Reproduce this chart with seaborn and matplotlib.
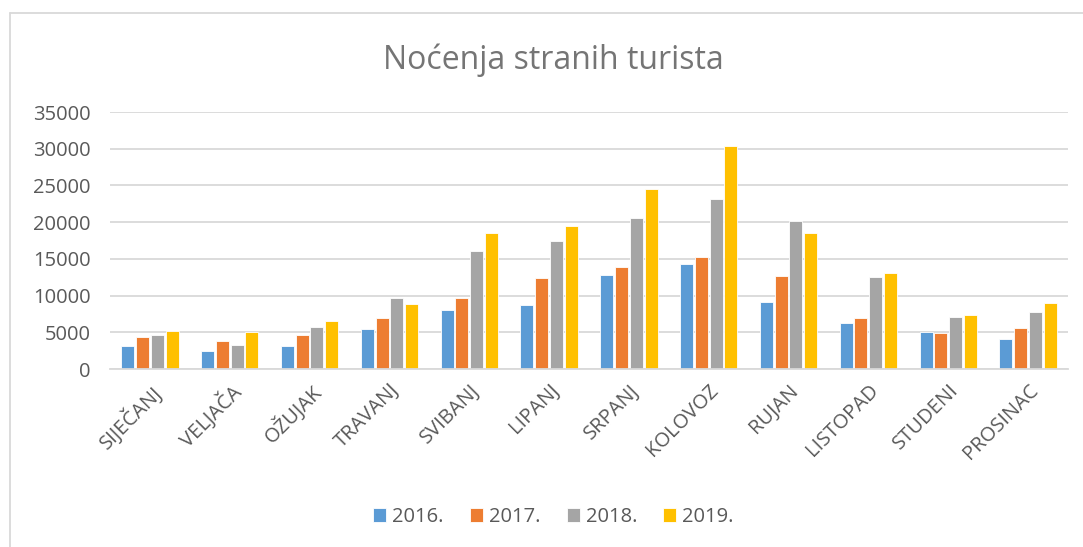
import matplotlib
matplotlib.use("Agg")
import matplotlib.pyplot as plt
import pandas as pd
import seaborn as sns
from matplotlib.lines import Line2D

months = ["SIJEČANJ", "VELJAČA", "OŽUJAK", "TRAVANJ", "SVIBANJ", "LIPANJ",
          "SRPANJ", "KOLOVOZ", "RUJAN", "LISTOPAD", "STUDENI", "PROSINAC"]
years = ["2016.", "2017.", "2018.", "2019."]
v2016 = [3100, 2500, 3150, 5500, 8000, 8750, 12850, 14300, 9130, 6270, 5000, 4140]
v2017 = [4320, 3770, 4590, 7000, 9630, 12450, 13850, 15220, 12630, 6910, 4860, 5640]
v2018 = [4680, 3270, 5680, 9720, 16080, 17400, 20580, 23120, 20210, 12490, 7090, 7770]
v2019 = [5180, 5050, 6540, 8910, 18530, 19490, 24480, 30390, 18530, 13080, 7320, 8950]
colors = ["#5B9BD5", "#ED7D31", "#A5A5A5", "#FFC000"]

rows = []
for year, vals in zip(years, [v2016, v2017, v2018, v2019]):
    for m, v in zip(months, vals):
        rows.append({"month": m, "year": year, "value": v})
df = pd.DataFrame(rows)

sns.set_style("white")
plt.rcParams["font.family"] = ["Open Sans", "DejaVu Sans"]
text_color = "#595959"

fig = plt.figure(figsize=(10.83, 5.47), dpi=100)
ax = fig.add_axes([0.1016, 0.3254, 0.8845, 0.4698])

sns.barplot(data=df, x="month", y="value", hue="year", order=months,
            hue_order=years, palette=colors, saturation=1, width=0.74, gap=0.12,
            edgecolor="white", linewidth=0.6, ax=ax, legend=True)

ax.set_ylim(0, 35000)
ax.set_yticks(range(0, 35001, 5000))
ax.set_xlim(-0.5, 11.5)
ax.yaxis.grid(True, color="#D9D9D9", linewidth=1.3)
ax.set_axisbelow(True)
for s in ["top", "right", "left"]:
    ax.spines[s].set_visible(False)
ax.spines["bottom"].set_color("#D9D9D9")
ax.spines["bottom"].set_linewidth(1.3)
ax.set_xlabel("")
ax.set_ylabel("")
ax.tick_params(axis="both", length=0, labelsize=14.5, colors=text_color)
ax.tick_params(axis="y", pad=14)
plt.setp(ax.get_xticklabels(), rotation=45, ha="right", rotation_mode="anchor")
ax.tick_params(axis="x", pad=8)

fig.text(0.511, 0.89, "Noćenja stranih turista", ha="center", va="center",
         fontsize=23, color="#757575")

leg = ax.legend(loc="center", bbox_to_anchor=(0.511, 0.055), bbox_transform=fig.transFigure,
                ncol=4, frameon=False, fontsize=14.5, handlelength=0.65, handleheight=0.65,
                handletextpad=0.3, columnspacing=1.3, labelcolor=text_color)

# chart frame (top and left edges visible)
fig.add_artist(Line2D([0.0092, 0.0092], [0.0, 0.976], color="#D9D9D9", linewidth=1.3,
                      transform=fig.transFigure))
fig.add_artist(Line2D([0.0092, 1.0], [0.976, 0.976], color="#D9D9D9", linewidth=1.3,
                      transform=fig.transFigure))

fig.savefig("out.png", dpi=100)
